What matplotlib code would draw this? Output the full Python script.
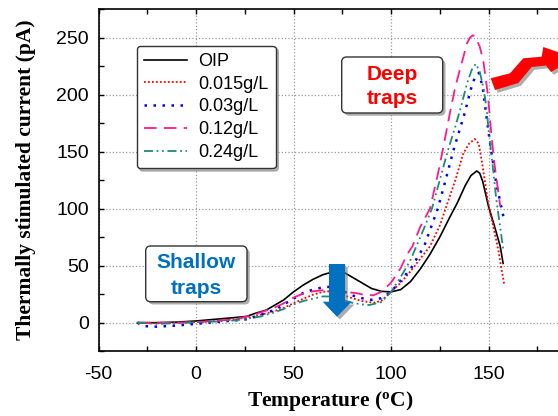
import numpy as np
import matplotlib
matplotlib.use('Agg')
import matplotlib.pyplot as plt
from matplotlib import patches, transforms
from matplotlib import patheffects as pe

W, H = 558, 416

# TSC curves, temperature in degC and current in pA
t_oip = [-30, -20, -10, 0, 10, 20, 26, 30, 36, 40, 45, 50, 55, 60, 65, 70, 73, 76, 80, 85, 90, 95, 100,
         105, 110, 115, 120, 125, 130, 134, 138, 141, 144, 145.5, 147, 150, 153, 156, 157.5]
i_oip = [0, 0, 0.5, 1.5, 3, 4.5, 5.5, 8, 11, 15, 20, 27, 33, 38, 42, 44.5, 45, 44, 40, 35, 30, 27.5, 27,
         29, 36, 47, 60, 75, 92, 105, 120, 129, 133, 131, 124, 102, 85, 67, 52]

t_015 = [-30, -20, -10, 0, 10, 20, 30, 33, 40, 45, 50, 55, 60, 65, 68, 72, 76, 80, 85, 91, 95, 100,
         105, 110, 115, 120, 125, 128, 133, 137, 140, 143, 145, 147, 150, 153, 155, 158]
i_015 = [0, -0.5, 0, 0.5, 1.5, 3, 5.5, 6.8, 10, 13, 17, 21, 24.5, 27, 27.5, 26.5, 24, 21.5, 19, 17.5, 19, 27,
         35, 45, 56, 67, 85, 100, 125, 148, 157, 161, 157, 137, 103, 80, 64, 34]

t_03 = [-30, -27, -20, -15, -10, 0, 10, 20, 26, 30, 40, 50, 55, 60, 65, 67, 70, 75, 80, 85, 90, 95, 100,
        105, 110, 117, 124, 128, 132, 135, 138, 141, 143, 145, 147, 149, 151, 154, 158]
i_03 = [0, -3, -3.5, -3, -2.5, -1, 0.5, 2, 3, 5, 11, 21, 26, 29, 31, 31.5, 31, 28, 24, 21.5, 20, 21.5, 27,
        37, 47, 67, 100, 125, 151, 168, 185, 205, 215, 219, 207, 180, 155, 122, 90]

t_12 = [-30, -20, -10, 0, 10, 20, 30, 33, 40, 45, 50, 55, 60, 65, 68, 72, 76, 82, 86, 91, 95, 100,
        105, 108, 111, 115, 120, 124, 126.5, 130, 133, 136, 139, 140.5, 142, 143.5, 145.5, 147.3, 149.6,
        151.6, 153, 156]
i_12 = [0, 0, 0, 0.5, 1.5, 3, 7, 9, 13, 17, 22, 25.5, 27.5, 28.5, 28.7, 28, 27, 26, 24.5, 24, 27, 35,
        48, 59, 67, 84, 100, 130, 151, 182, 207, 226, 245, 250, 252, 250, 242, 230, 201,
        163, 140, 102]

t_24 = [-30, -20, -10, 0, 10, 20, 30, 33, 40, 45, 50, 55, 60, 65, 68, 72, 76, 80, 85, 89, 95, 100,
        105, 110, 113, 117, 121, 125, 129, 133, 136, 139, 141.5, 143.5, 145.5, 147.5, 149, 150, 152, 154, 157.5]
i_24 = [0, -1, -0.5, 0.5, 1, 2, 4.5, 5.3, 9, 12, 16, 19, 21, 23, 23, 22, 19.5, 17.5, 16, 15.5, 18, 27,
        40, 55, 67, 83, 100, 125, 150, 172, 190, 210, 222, 227, 220, 205, 188, 170, 140, 108, 65]

labels = ['OIP', '0.015g/L', '0.03g/L', '0.12g/L', '0.24g/L']

plt.rcParams['font.family'] = ['Liberation Sans', 'DejaVu Sans']
plt.rcParams['axes.unicode_minus'] = False
plt.rcParams['lines.solid_joinstyle'] = 'round'
plt.rcParams['lines.dash_joinstyle'] = 'round'

fig = plt.figure(figsize=(W / 100, H / 100), dpi=100)
# axis runs past the right edge of the figure (cut off there)
ax = fig.add_axes([98.5 / W, (H - 351.2) / H, (586 - 98.5) / W, 342.2 / H])

ax.plot(t_oip, i_oip, color='black', lw=1.2, label=labels[0])
ax.plot(t_015, i_015, color='#ff0000', lw=1.3, ls=(0, (1, 1.2)), label=labels[1])
ax.plot(t_03, i_03, color='#0000ff', lw=1.8, ls=(0, (1, 2.6)), label=labels[2])
ax.plot(t_12, i_12, color='#ff1a8c', lw=1.3, ls=(0, (7, 4)), label=labels[3])
ax.plot(t_24, i_24, color='#1a8c7a', lw=1.3, ls=(0, (5, 2, 1, 2, 1, 2)), label=labels[4])

ax.set_xlim(-50, 200)
ax.set_ylim(-25, 275)
ax.set_xticks([-50, 0, 50, 100, 150])
ax.set_xticks(np.arange(-50, 201, 25), minor=True)
ax.set_yticks([0, 50, 100, 150, 200, 250])
ax.set_yticks(np.arange(-25, 276, 25), minor=True)
ax.tick_params(which='both', direction='in', top=True, right=True, length=3.5, width=1, labelsize=14)
ax.tick_params(axis='x', pad=11)
ax.tick_params(axis='y', pad=7)
ax.grid(True, which='major', color='#9a9a9a', ls=':', lw=0.9)
for s in ax.spines.values():
    s.set_linewidth(1.2)

serif = {'family': ['Liberation Serif', 'DejaVu Serif'], 'weight': 'bold', 'size': 15.5}
fig.text(330 / W, 1 - 401 / H, r'Temperature ($\mathregular{^o}$C)', ha='center', va='center', fontdict=serif)
fig.text(26 / W, 1 - 180 / H, 'Thermally stimulated current (pA)', ha='center', va='center',
         rotation=90, fontdict=serif)

leg = ax.legend(loc='upper left', bbox_to_anchor=((136.7 - 98.5) / 487.5, (351.2 - 45.7) / 342.2),
                borderaxespad=0, fontsize=13, handlelength=2.4, handletextpad=0.6,
                labelspacing=0.32, borderpad=0.4, fancybox=True, shadow={'color': '#888888', 'alpha': 0.6},
                framealpha=1, edgecolor='#333333')
leg.get_frame().set_linewidth(1.0)

# pixel coordinates (origin top-left) -> figure
px = transforms.Affine2D().scale(1 / W, -1 / H).translate(0, 1) + fig.transFigure
shadow = [pe.SimplePatchShadow(offset=(2, -2), shadow_rgbFace='#777777', alpha=0.6), pe.Normal()]


def note_box(x0, y0, x1, y1, lines, ys, color):
    box = patches.FancyBboxPatch((x0, y0), x1 - x0, y1 - y0, boxstyle='round,pad=0,rounding_size=5',
                                 transform=px, fc='white', ec='#333333', lw=1.0, zorder=5)
    box.set_path_effects(shadow)
    fig.add_artist(box)
    for s, y in zip(lines, ys):
        fig.text((x0 + x1) / 2 / W, 1 - y / H, s, ha='center', va='center', color=color,
                 fontsize=15, fontweight='bold', zorder=6)


note_box(341.7, 57, 442.7, 113, ['Deep', 'traps'], [74, 99], '#ff0000')
note_box(145.7, 246, 247, 301.7, ['Shallow', 'traps'], [262, 288], '#0070c0')

# blue down arrow on the shallow-trap peak
down = patches.Polygon([(329, 264), (345, 264), (345, 301.7), (351.7, 301.7), (337, 316.7),
                        (322.7, 301.7), (329, 301.7)], closed=True, transform=px,
                       fc='#0070c0', ec='none', zorder=7)
down.set_path_effects(shadow)
fig.add_artist(down)

# red zig-zag arrow pointing out of the deep-trap peak
bolt = patches.Polygon([(490.7, 78.3), (510, 73.3), (523.3, 58.3), (541.7, 56.7), (543.3, 47),
                        (575, 58), (551, 72), (546, 65.5), (531.7, 67), (518.3, 83), (495, 90)],
                       closed=True, transform=px, fc='#ff0000', ec='none', zorder=7)
bolt.set_path_effects(shadow)
fig.add_artist(bolt)

fig.savefig('out.png', dpi=100)
